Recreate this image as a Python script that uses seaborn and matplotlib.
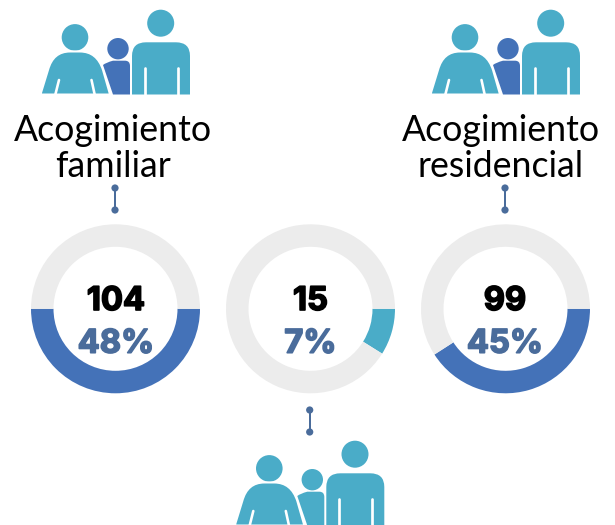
import matplotlib
matplotlib.use("Agg")
import matplotlib.pyplot as plt
import matplotlib.patheffects as pe
from matplotlib.path import Path
from matplotlib.patches import PathPatch, Circle
import seaborn as sns

sns.set_theme(style="white")
plt.rcParams['font.family'] = ['Lato', 'DejaVu Sans']

# Data
counts = [104, 15, 99]
percent_labels = ["48%", "7%", "45%"]
arc_shares = [50.0, 8.9, 40.9]   # sweep of each coloured arc as drawn, % of the ring
titles_top = [["Acogimiento", "familiar"], None, ["Acogimiento", "residencial"]]

BLUE = "#4472B8"
TEAL = "#4AACC8"
GRAY = "#ECECEC"
SLATE = "#4A6C9B"
arc_colors = sns.color_palette([BLUE, TEAL, BLUE])

W, H = 615, 525
fig = plt.figure(figsize=(W / 100, H / 100), dpi=100, facecolor="white")

# Donuts
centers_x = [115.5, 310.5, 505.5]
center_y = 308.8
R = 84.5
RING = 22.5
for cx, share, col in zip(centers_x, arc_shares, arc_colors):
    ax = fig.add_axes([(cx - R) / W, 1 - (center_y + R) / H, 2 * R / W, 2 * R / H])
    ax.pie([share, 100 - share], colors=[col, GRAY], startangle=0, counterclock=False,
           radius=1, wedgeprops=dict(width=RING / R, linewidth=0))
    ax.set_xlim(-1, 1)
    ax.set_ylim(-1, 1)
    ax.set_aspect("equal")
    ax.axis("off")

# Overlay in pixel coordinates
ov = fig.add_axes([0, 0, 1, 1], zorder=5)
ov.set_xlim(0, W)
ov.set_ylim(H, 0)
ov.axis("off")
ov.patch.set_alpha(0)

M, L, Q = Path.MOVETO, Path.LINETO, Path.CURVE3


def px(p):
    return p * 0.72


def icon(dx, dy, child_color):
    # child
    ov.add_patch(Circle((118 + dx, 48.7 + dy), 10.7, fc=child_color, ec="none"))
    v = [(103, 65), (106, 62.5), (113, 60.7), (125, 60.7), (130, 60.7), (130, 66), (130, 94.5),
         (113, 94.5), (103, 65)]
    c = [M, Q, Q, L, Q, Q, L, L, L]
    ov.add_patch(PathPatch(Path([(x + dx, y + dy) for x, y in v], c), fc=child_color, ec="none"))
    # woman
    ov.add_patch(Circle((75 + dx, 37.4 + dy), 13.3, fc=TEAL, ec="none"))
    v = [(40.5, 94.5), (48, 70), (53, 51.5), (70, 51.5), (80, 51.5), (97, 51.5), (103, 70), (110, 94.5),
         (40.5, 94.5)]
    c = [M, L, Q, Q, L, Q, Q, L, L]
    ov.add_patch(PathPatch(Path([(x + dx, y + dy) for x, y in v], c), fc=TEAL, ec="white",
                           lw=px(2), joinstyle="round"))
    ov.plot([59 + dx, 55 + dx], [80 + dy, 96 + dy], color="white", lw=px(2.6), solid_capstyle="round")
    ov.plot([91.5 + dx, 95 + dx], [80 + dy, 96 + dy], color="white", lw=px(2.6), solid_capstyle="round")
    # man
    ov.add_patch(Circle((160.7 + dx, 23.2 + dy), 13.5, fc=TEAL, ec="none"))
    v = [(132, 94.5), (132, 56), (132, 42.3), (146, 42.3), (176, 42.3), (190, 42.3), (190, 56),
         (190, 94.5), (132, 94.5)]
    c = [M, L, Q, Q, L, Q, Q, L, L]
    ov.add_patch(PathPatch(Path([(x + dx, y + dy) for x, y in v], c), fc=TEAL, ec="none"))
    for x in (144.5, 177.5):
        ov.plot([x + dx, x + dx], [68 + dy, 96 + dy], color="white", lw=px(2.7), solid_capstyle="round")
    # clean bottom edge
    ov.fill_between([36 + dx, 195 + dx], 94.8 + dy, 100 + dy, color="white", lw=0, zorder=3)


icon(0, 0, BLUE)
icon(390, 0, BLUE)
icon(194.3, 431, TEAL)


# Connectors
def connector(x, y0, y1):
    ov.plot([x, x], [y0, y1], color=SLATE, lw=px(2), solid_capstyle="butt")
    for y in (y0, y1):
        ov.add_patch(Circle((x, y), 3.6, fc=SLATE, ec="none"))


connector(115, 188, 210)
connector(505, 188, 210)
connector(309.7, 410, 432)

# Titles
title_x = [112.5, None, 501]
for tx, lines in zip(title_x, titles_top):
    if lines is None:
        continue
    for line, base in zip(lines, (141, 177)):
        ov.text(tx, base, line, ha="center", va="baseline", fontsize=25.7, color="black",
                fontweight="normal")

# Centre labels
for cx, n, pct in zip([116, 310.5, 505], counts, percent_labels):
    t1 = ov.text(cx, 310, str(n), ha="center", va="baseline", fontsize=23.5, color="black",
                 fontweight="bold", family="Inter")
    t2 = ov.text(cx, 352.7, pct, ha="center", va="baseline", fontsize=23.5, color=SLATE,
                 fontweight="bold", family="Inter")
    t1.set_path_effects([pe.withStroke(linewidth=1.2, foreground="black")])
    t2.set_path_effects([pe.withStroke(linewidth=1.2, foreground=SLATE)])

fig.savefig("out.png", dpi=100, facecolor="white")
